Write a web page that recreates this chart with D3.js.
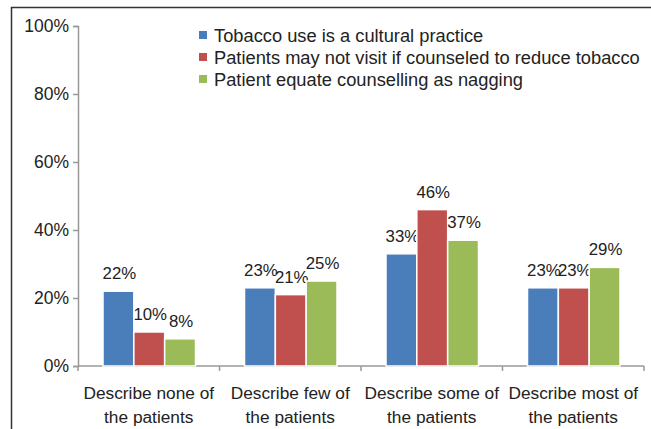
<!DOCTYPE html>
<html>
<head>
<meta charset="utf-8">
<script src="https://cdnjs.cloudflare.com/ajax/libs/d3/7.8.5/d3.min.js"></script>
<style>
  body { margin: 0; background: #fff; }
  text { font-family: "Liberation Sans", Arial, sans-serif; fill: #222; }
</style>
</head>
<body>
<div id="chart"></div>
<script>
// categories, two-line labels
var categories = ["Describe none of|the patients", "Describe few of|the patients",
                  "Describe some of|the patients", "Describe most of|the patients"];
var seriesNames = ["Tobacco use is a cultural practice",
                   "Patients may not visit if counseled to reduce tobacco",
                   "Patient equate counselling as nagging"];
var cultural = [22, 23, 33, 23];
var mayNotVisit = [10, 21, 46, 23];
var nagging = [8, 25, 37, 29];
var yTicks = [0, 20, 40, 60, 80, 100];
var colors = ["#4a7ebb", "#c0504d", "#9bbb59"];

var series = [cultural, mayNotVisit, nagging];

var width = 651, height = 429;
var svg = d3.select("#chart").append("svg")
    .attr("width", width).attr("height", height);

// outer frame (only left and top visible)
svg.append("path")
    .attr("d", "M11.5,429 V7.5 H651")
    .attr("fill", "none").attr("stroke", "#333").attr("stroke-width", 1.5);

// plot area (window.top is reserved, so use other names)
var plotL = 78, plotR = 644, plotT = 26, plotB = 366;

var y = d3.scaleLinear().domain([0, 100]).range([plotB, plotT]);
var x0 = d3.scaleBand().domain(d3.range(categories.length)).range([plotL, plotR]);
var x1 = d3.scaleBand().domain(d3.range(series.length))
    .range([25, x0.bandwidth() - 24]).paddingInner(0.0);

// y axis
var yAxis = d3.axisLeft(y).tickValues(yTicks).tickSize(5).tickPadding(4)
    .tickFormat(function(d) { return d + "%"; });
var gy = svg.append("g").attr("transform", "translate(" + plotL + ",0)").call(yAxis);
gy.select(".domain").attr("stroke", "#999").attr("stroke-width", 1.5);
gy.selectAll(".tick line").attr("stroke", "#999").attr("stroke-width", 1.5);
gy.selectAll(".tick text").attr("font-size", 17.5).attr("fill", "#222")
    .style("font-family", "'Liberation Sans', Arial, sans-serif");

// x axis line with ticks at category boundaries
svg.append("line").attr("x1", plotL).attr("x2", plotR)
    .attr("y1", plotB).attr("y2", plotB)
    .attr("stroke", "#999").attr("stroke-width", 1.5);
var bounds = d3.range(categories.length + 1).map(function(i) {
    return i < categories.length ? x0(i) : x0(i - 1) + x0.bandwidth();
});
svg.selectAll(".xtick").data(bounds).enter().append("line")
    .attr("x1", function(d) { return d; }).attr("x2", function(d) { return d; })
    .attr("y1", plotB).attr("y2", plotB + 5)
    .attr("stroke", "#999").attr("stroke-width", 1.5);

// category labels
svg.selectAll(".cat").data(categories).enter().append("text")
    .attr("text-anchor", "middle").attr("font-size", 17.3)
    .attr("x", function(d, i) { return x0(i) + x0.bandwidth() / 2; })
    .attr("y", 399)
    .each(function(d) {
        var lines = d.split("|");
        var t = d3.select(this);
        lines.forEach(function(l, k) {
            t.append("tspan").attr("x", t.attr("x")).attr("dy", k ? 24 : 0).text(l);
        });
    });

// bars
series.forEach(function(vals, s) {
    var g = svg.append("g");
    g.selectAll("rect").data(vals).enter().append("rect")
        .attr("x", function(d, i) { return x0(i) + x1(s); })
        .attr("y", function(d) { return y(d); })
        .attr("width", x1.bandwidth())
        .attr("height", function(d) { return plotB - y(d); })
        .attr("fill", colors[s]).attr("stroke", "#fff").attr("stroke-width", 1.5);
    g.selectAll("text").data(vals).enter().append("text")
        .attr("text-anchor", "middle").attr("font-size", 16.8)
        .attr("x", function(d, i) { return x0(i) + x1(s) + x1.bandwidth() / 2 + 1; })
        .attr("y", function(d) { return y(d) - 12; })
        .text(function(d) { return d + "%"; });
});

// legend
var leg = svg.append("g").attr("transform", "translate(199,0)");
seriesNames.forEach(function(n, i) {
    var cy = 35 + i * 22;
    leg.append("rect").attr("x", 0).attr("y", cy - 4).attr("width", 8).attr("height", 8)
        .attr("fill", colors[i]);
    leg.append("text").attr("x", 15).attr("y", cy + 6.5).attr("font-size", 18.3).text(n);
});
</script>
</body>
</html>
